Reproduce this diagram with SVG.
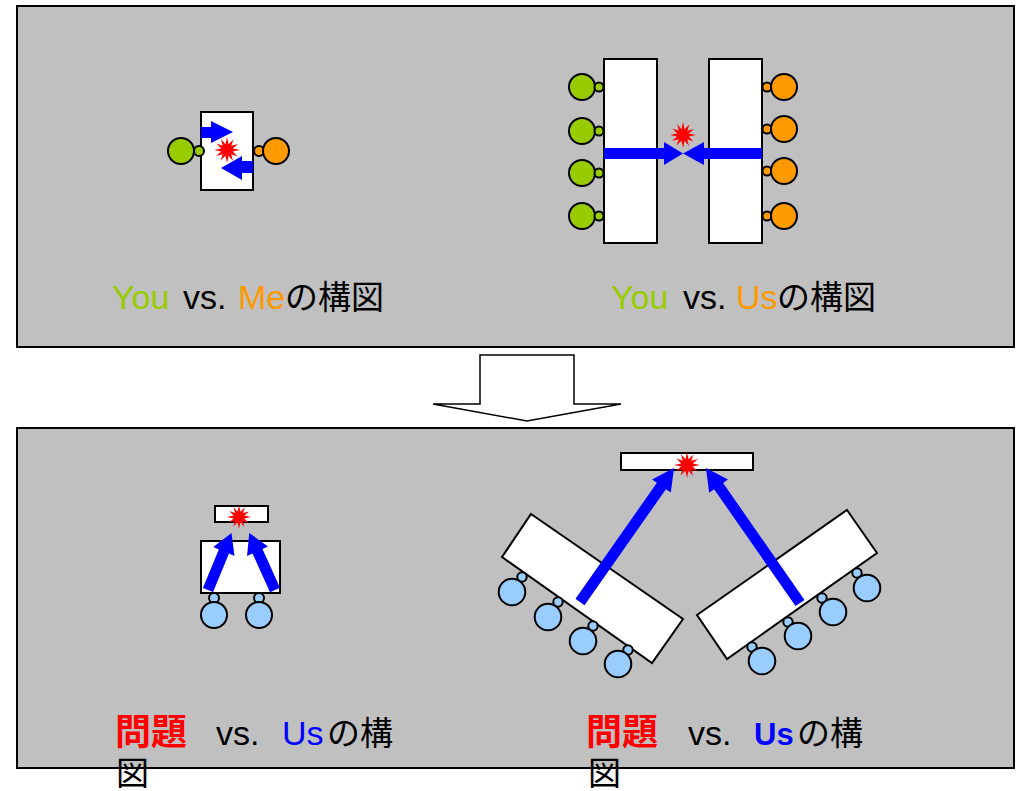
<svg xmlns="http://www.w3.org/2000/svg" xmlns:xlink="http://www.w3.org/1999/xlink" width="1018" height="791" viewBox="0 0 1018 791">
<style>
.panel{fill:#C0C0C0;stroke:#000;stroke-width:2}
.box{fill:#fff;stroke:#000;stroke-width:2}
.g{fill:#99CC00;stroke:#000;stroke-width:2}
.o{fill:#FF9900;stroke:#000;stroke-width:2}
.b{fill:#99CCFF;stroke:#000;stroke-width:2}
.arr{fill:#0000FF;stroke:none}
.boom{fill:#FF0000}
text{font-family:"Liberation Sans","Noto Sans CJK JP",sans-serif;font-size:34px;fill:#000}
.cjk{font-family:"Noto Sans CJK JP",sans-serif;font-size:33px}
.big{font-family:"Noto Sans CJK JP",sans-serif;font-size:36px;font-weight:bold;fill:#FF0000}
</style>
<defs>
<polygon id="star" points="13,0 5.8,1.55 10.5,6.5 4.24,4.24 6,11 1.55,5.8 0,13 -1.55,5.8 -6.5,10.5 -4.24,4.24 -11,6 -5.8,1.55 -13,0 -5.8,-1.55 -10.5,-6.5 -4.24,-4.24 -6,-11 -1.55,-5.8 0,-13 1.55,-5.8 6.5,-10.5 4.24,-4.24 11,-6 5.8,-1.55"/>
</defs>
<rect id="panel-top" class="panel" x="17" y="6" width="997" height="341"/>
<rect id="panel-bottom" class="panel" x="17" y="428" width="997" height="340"/>
<g id="down-arrow"><polygon points="480,355 574,355 574,404 621,404 527,421 433,404 480,404" fill="#fff" stroke="#000" stroke-width="1.5"/></g>

<g id="you-vs-me">
<rect class="box" x="201" y="112" width="52" height="78"/>
<circle class="g" cx="181" cy="151" r="13"/>
<circle class="g" cx="199" cy="151" r="5"/>
<circle class="o" cx="259" cy="151" r="5"/>
<circle class="o" cx="276" cy="151" r="13"/>
<use xlink:href="#star" class="boom" transform="translate(227,150)"/>
</g>

<g id="you-vs-us">
<rect class="box" x="604" y="59" width="53" height="184"/>
<rect class="box" x="709" y="59" width="53" height="184"/>
<circle class="g" cx="582" cy="87" r="13"/><circle class="g" cx="599" cy="87" r="4.5"/>
<circle class="g" cx="582" cy="131" r="13"/><circle class="g" cx="599" cy="131" r="4.5"/>
<circle class="g" cx="582" cy="173" r="13"/><circle class="g" cx="599" cy="173" r="4.5"/>
<circle class="g" cx="582" cy="216" r="13"/><circle class="g" cx="599" cy="216" r="4.5"/>
<circle class="o" cx="767" cy="87" r="4.5"/><circle class="o" cx="784" cy="87" r="13"/>
<circle class="o" cx="767" cy="129" r="4.5"/><circle class="o" cx="784" cy="129" r="13"/>
<circle class="o" cx="767" cy="171" r="4.5"/><circle class="o" cx="784" cy="171" r="13"/>
<circle class="o" cx="767" cy="216" r="4.5"/><circle class="o" cx="784" cy="216" r="13"/>
<use xlink:href="#star" class="boom" transform="translate(683,135)"/>
</g>

<g id="problem-vs-us-small">
<rect class="box" x="215" y="506" width="53" height="16"/>
<rect class="box" x="201" y="541" width="79" height="52"/>
<circle class="b" cx="214" cy="598" r="5"/><circle class="b" cx="214" cy="615" r="13"/>
<circle class="b" cx="259" cy="598" r="5"/><circle class="b" cx="259" cy="615" r="13"/>
<use xlink:href="#star" class="boom" transform="translate(239,517) scale(0.92)"/>
</g>

<g id="problem-vs-us-large">
<rect class="box" x="621" y="453" width="132" height="17"/>
<polygon class="box" points="531,514 683,619 652,663 502,557"/>
<polygon class="box" points="847,510 877,553 727,659 697,615"/>
<circle class="b" cx="522" cy="577" r="4.7"/><circle class="b" cx="512" cy="592" r="13.3"/>
<circle class="b" cx="558" cy="602" r="4.7"/><circle class="b" cx="548" cy="617" r="13.3"/>
<circle class="b" cx="593" cy="626" r="4.7"/><circle class="b" cx="583" cy="641" r="13.3"/>
<circle class="b" cx="628" cy="650" r="4.7"/><circle class="b" cx="618" cy="664" r="13.3"/>
<circle class="b" cx="752" cy="647" r="4.7"/><circle class="b" cx="762" cy="661" r="13.3"/>
<circle class="b" cx="788" cy="622" r="4.7"/><circle class="b" cx="798" cy="636" r="13.3"/>
<circle class="b" cx="822" cy="598" r="4.7"/><circle class="b" cx="833" cy="612" r="13.3"/>
<circle class="b" cx="857" cy="573" r="4.7"/><circle class="b" cx="867" cy="588" r="13.3"/>
<use xlink:href="#star" class="boom" transform="translate(687,465)"/>
</g>

<g id="connectors">
<polygon class="arr" points="201,127 211,127 211,121 233,132 211,143 211,138 201,138"/>
<polygon class="arr" points="253,161 242,161 242,156 221,168 242,180 242,173 253,173"/>
<polygon class="arr" points="604,148 664,148 664,142 683,153.5 664,165 664,159 604,159"/>
<polygon class="arr" points="762,148 704,148 704,142 683,153.5 704,165 704,159 762,159"/>
<polygon class="arr" points="202.9,587.9 218.8,549.4 213.3,547.1 231.5,533 234.5,555.9 229,553.6 213.1,592.1"/>
<polygon class="arr" points="270,592.3 252.5,553.5 247,555.9 249.3,533 268,546.5 262.5,549 280,587.7"/>
<polygon class="arr" points="575.5,598.8 656.9,482.8 652,479.4 674,468 670.8,492.6 665.9,489.2 584.5,605.2"/>
<polygon class="arr" points="795.5,606.1 714.1,489.2 709.2,492.7 706,468 728,479.5 723.1,483 804.5,599.9"/>
</g>

<g id="labels">
<text y="309"><tspan x="112" fill="#99CC00">You</tspan><tspan x="183">vs.</tspan><tspan x="238" fill="#FF9900">Me</tspan><tspan x="285" class="cjk">の構図</tspan></text>
<text y="309"><tspan x="611" fill="#99CC00">You</tspan><tspan x="683">vs.</tspan><tspan x="736" fill="#FF9900">Us</tspan><tspan x="777" class="cjk">の構図</tspan></text>
<text y="745"><tspan x="115" class="big">問題</tspan><tspan x="216">vs.</tspan><tspan x="282" fill="#0000FF">Us</tspan><tspan x="327" class="cjk">の構</tspan></text>
<text y="785" class="cjk" x="116">図</text>
<text y="745"><tspan x="586" class="big">問題</tspan><tspan x="688">vs.</tspan><tspan x="754" fill="#0000FF" font-weight="bold" style="font-size:31px">Us</tspan><tspan x="797" class="cjk">の構</tspan></text>
<text y="785" class="cjk" x="588">図</text>
</g>
</svg>
